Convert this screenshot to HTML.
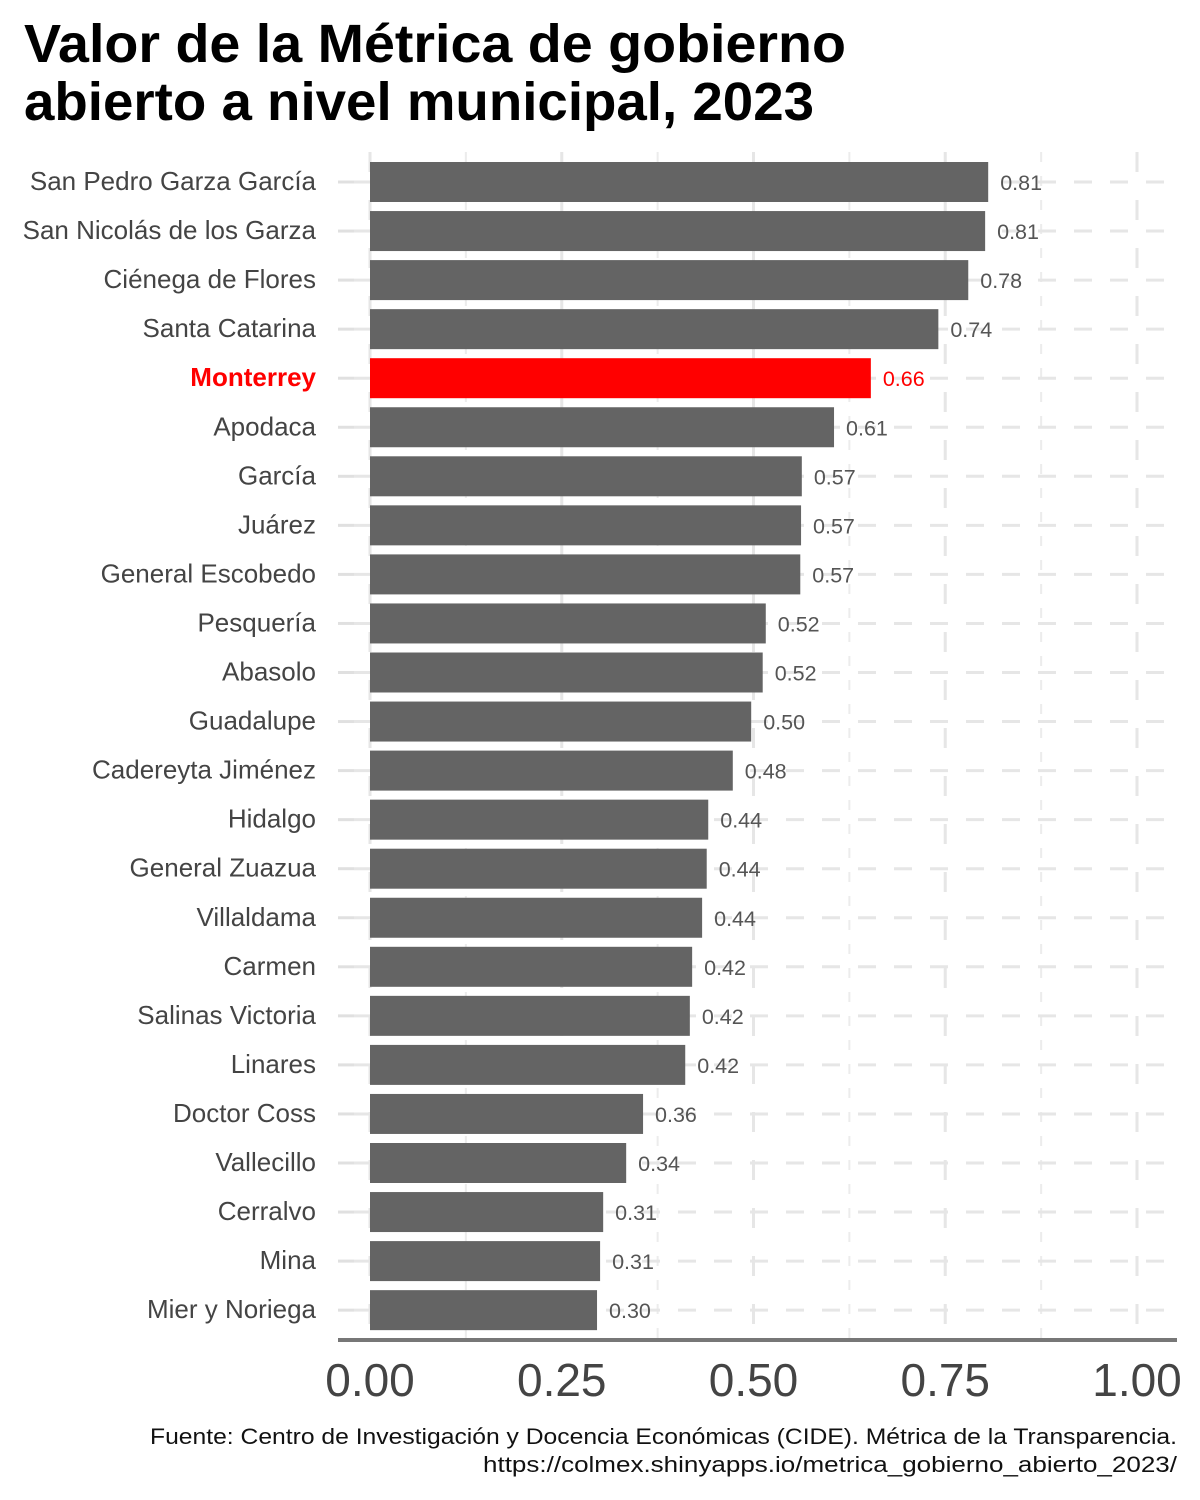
<!DOCTYPE html>
<html><head><meta charset="utf-8">
<style>
html,body{margin:0;padding:0;background:#fff;}
svg{display:block;font-family:"Liberation Sans",sans-serif;}
</style></head>
<body>
<svg id="chart" width="1200" height="1500" viewBox="0 0 1200 1500">
<rect x="0" y="0" width="1200" height="1500" fill="#fff"/>
<text x="24" y="62" font-size="54" font-weight="bold" fill="#000" textLength="822" lengthAdjust="spacingAndGlyphs">Valor de la Métrica de gobierno</text>
<text x="24" y="120" font-size="54" font-weight="bold" fill="#000" textLength="790" lengthAdjust="spacingAndGlyphs">abierto a nivel municipal, 2023</text>
<g id="grid"></g>
<g id="bars"></g>
<g id="yaxis"></g>
<g id="xaxis"></g>
<text x="1177" y="1444" font-size="22" fill="#111" text-anchor="end" textLength="1027" lengthAdjust="spacingAndGlyphs">Fuente: Centro de Investigación y Docencia Económicas (CIDE). Métrica de la Transparencia.</text>
<text x="1177" y="1472" font-size="22" fill="#111" text-anchor="end" textLength="694" lengthAdjust="spacingAndGlyphs">https://colmex.shinyapps.io/metrica_gobierno_abierto_2023/</text>
</svg>
<script>
const categories = ["San Pedro Garza García","San Nicolás de los Garza","Ciénega de Flores","Santa Catarina","Monterrey","Apodaca","García","Juárez","General Escobedo","Pesquería","Abasolo","Guadalupe","Cadereyta Jiménez","Hidalgo","General Zuazua","Villaldama","Carmen","Salinas Victoria","Linares","Doctor Coss","Vallecillo","Cerralvo","Mina","Mier y Noriega"];
const values = [0.806,0.802,0.780,0.741,0.653,0.605,0.563,0.562,0.561,0.516,0.512,0.497,0.473,0.441,0.439,0.433,0.420,0.417,0.411,0.356,0.334,0.304,0.300,0.296];
const valueLabels = ["0.81","0.81","0.78","0.74","0.66","0.61","0.57","0.57","0.57","0.52","0.52","0.50","0.48","0.44","0.44","0.44","0.42","0.42","0.42","0.36","0.34","0.31","0.31","0.30"];
const highlight = "Monterrey";
const xTicks = [0,0.25,0.5,0.75,1];
const xTickLabels = ["0.00","0.25","0.50","0.75","1.00"];
const xMinor = [0.125,0.375,0.625,0.875];

const NS="http://www.w3.org/2000/svg";
const x0=370, x1=1137, top0=182, step=49.05, barH=40, axisY=1340;
const xs = v => x0 + v*(x1-x0);
const ys = i => top0 + i*step;
function mk(tag, attrs, parent){const e=document.createElementNS(NS,tag);for(const k in attrs)e.setAttribute(k,attrs[k]);parent.appendChild(e);return e;}
const grid=document.getElementById('grid'), bars=document.getElementById('bars'), yaxis=document.getElementById('yaxis'), xaxis=document.getElementById('xaxis');

xMinor.forEach(v=>{
  const l=mk('line',{x1:xs(v),x2:xs(v),y1:152,y2:axisY,stroke:'#ececec','stroke-width':2,'stroke-dasharray':'10 14'},grid);
  
  
});
xTicks.forEach(v=>{
  const l=mk('line',{x1:xs(v),x2:xs(v),y1:152,y2:axisY,stroke:'#e6e6e6','stroke-width':3,'stroke-dasharray':'20 28'},grid);
  
  
});
categories.forEach((c,i)=>{
  const l=mk('line',{x1:354,x2:1177,y1:ys(i),y2:ys(i),stroke:'#e6e6e6','stroke-width':3,'stroke-dasharray':'18 18'},grid);
  
  
});
categories.forEach((c,i)=>{
  const hi = c===highlight;
  const r=mk('rect',{x:x0,y:ys(i)-barH/2,width:xs(values[i])-x0,height:barH,fill:hi?'#ff0000':'#646464'},bars);
  
  
  const t=mk('text',{x:xs(values[i])+12,y:ys(i)+8,'font-size':21.5,fill:hi?'#ff0000':'#555'},bars);
  t.textContent=valueLabels[i];
  
  
  const tk=mk('line',{x1:338,x2:354,y1:ys(i),y2:ys(i),stroke:'#e0e0e0','stroke-width':3},yaxis);
  
  
  const lb=mk('text',{x:316,y:ys(i)+8,'font-size':26,'text-anchor':'end',fill:hi?'#ff0000':'#444','font-weight':hi?'bold':'normal'},yaxis);
  lb.textContent=c;
  
  
});
const ax=mk('line',{x1:338,x2:1177,y1:axisY,y2:axisY,stroke:'#777','stroke-width':4},xaxis);


xTicks.forEach((v,i)=>{
  const t=mk('text',{x:xs(v),y:1396,'font-size':46,'text-anchor':'middle',fill:'#444'},xaxis);
  t.textContent=xTickLabels[i];
  
  
});
</script>
</body></html>
